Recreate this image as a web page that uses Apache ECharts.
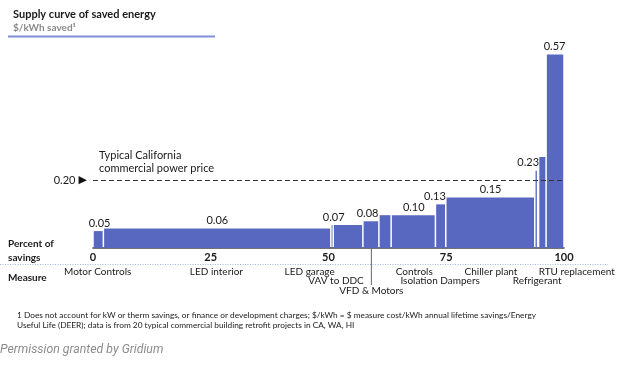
<!DOCTYPE html>
<html><head><meta charset="utf-8">
<script src="https://cdn.jsdelivr.net/npm/echarts@6/dist/echarts.min.js"></script>
<style>html,body{margin:0;padding:0;background:#fff}#c{width:622px;height:366px}</style>
</head><body><div id="c"></div>
<script>
// Supply curve segments: cumulative percent of savings (start/end) and $/kWh
const barStart = [0, 2.2, 50.5, 51.0, 57.3, 60.7, 63.3, 72.7, 74.9, 93.8, 94.6, 96.2];
const barEnd   = [2.2, 50.5, 51.0, 57.3, 60.7, 63.3, 72.7, 74.9, 93.8, 94.4, 96.2, 100];
const barValue = [0.05, 0.058, 0.068, 0.068, 0.079, 0.097, 0.097, 0.129, 0.149, 0.228, 0.269, 0.572];

// Value annotations
const labelX    = [1.4, 26.4, 51.1, 58.3, 68.1, 72.6, 84.4, 92.4, 98.0];
const labelY    = [0.05, 0.058, 0.068, 0.079, 0.097, 0.129, 0.149, 0.228, 0.572];
const labelText = ['0.05', '0.06', '0.07', '0.08', '0.10', '0.13', '0.15', '0.23', '0.57'];

// Measures (names, x position in percent, row)
const measureNames = ['Motor Controls', 'LED interior', 'LED garage', 'VAV to DDC', 'VFD & Motors',
  'Controls', 'Isolation Dampers', 'Chiller plant', 'Refrigerant', 'RTU replacement'];
const measureX   = [1.0, 26.2, 46.0, 51.6, 59.1, 68.2, 73.7, 84.5, 94.3, 102.7];
const measureRow = [0, 0, 0, 1, 2, 0, 1, 0, 1, 0];

const xTicks = [0, 25, 50, 75, 100];
const powerPrice = 0.20;
const markerX = 59.1;

const FONT = 'Lato, "Open Sans", sans-serif';
const BAR = '#5868C0';

const chart = echarts.init(document.getElementById('c'), null, {renderer: 'canvas'});

chart.setOption({
  animation: false,
  backgroundColor: '#fff',
  textStyle: {fontFamily: FONT},
  title: {
    text: 'Supply curve of saved energy',
    subtext: '$/kWh saved\u00B9',
    left: 8, top: 4, itemGap: 3,
    textStyle: {fontFamily: FONT, fontSize: 11, fontWeight: 'bold', color: '#1a1a1a'},
    subtextStyle: {fontFamily: FONT, fontSize: 10, fontWeight: 'bold', color: '#8a8a8a'}
  },
  grid: {left: 93, right: 58, top: 45, bottom: 118, containLabel: false},
  xAxis: {
    type: 'value', min: xTicks[0], max: xTicks[xTicks.length - 1], interval: 25,
    axisLine: {show: true, lineStyle: {color: '#444', width: 1.5}},
    axisTick: {show: false}, splitLine: {show: false},
    axisLabel: {margin: 4, fontFamily: FONT, fontSize: 11, fontWeight: 'bold', color: '#1a1a1a'}
  },
  yAxis: {
    type: 'value', min: 0, max: 0.6, interval: 0.2,
    axisLine: {show: false}, axisTick: {show: false}, splitLine: {show: false},
    axisLabel: {
      margin: 6,
      formatter: v => Math.abs(v - powerPrice) < 1e-9 ? '{v|0.20} {a|\u25B6}' : '',
      rich: {
        v: {fontFamily: FONT, fontSize: 11, color: '#1a1a1a'},
        a: {fontFamily: 'DejaVu Sans', fontSize: 11, color: '#111'}
      }
    }
  },
  graphic: [
    {type: 'line', shape: {x1: 8, y1: 36.5, x2: 215, y2: 36.5}, style: {stroke: '#7F8FD8', lineWidth: 2}},
    {type: 'text', left: 8, top: 237, style: {text: 'Percent of\nsavings', font: 'bold 10px ' + FONT, fill: '#1a1a1a', lineHeight: 14}},
    {type: 'text', left: 8, top: 273, style: {text: 'Measure', font: 'bold 10px ' + FONT, fill: '#1a1a1a'}},
    {type: 'line', shape: {x1: 0, y1: 264.5, x2: 608, y2: 264.5}, style: {stroke: '#A9B5DA', lineWidth: 1, lineDash: [1, 1.5]}},
    {type: 'text', left: 17, top: 310, style: {
      text: '1 Does not account for kW or therm savings, or finance or development charges; $/kWh = $ measure cost/kWh annual lifetime savings/Energy\nUseful Life (DEER); data is from 20 typical commercial building retrofit projects in CA, WA, HI',
      font: '8.3px ' + FONT, fill: '#1a1a1a', lineHeight: 10.5}},
    {type: 'text', left: 0, top: 344, style: {text: 'Permission granted by Gridium', font: 'italic 12.3px Roboto, sans-serif', fill: '#8c8c8c'}}
  ],
  series: [
    {
      type: 'custom',
      data: barStart.map((s, i) => [s, barEnd[i], barValue[i]]),
      encode: {x: [0, 1], y: 2},
      renderItem: (params, api) => {
        const p0 = api.coord([api.value(0), 0]);
        const p1 = api.coord([api.value(1), api.value(2)]);
        return {type: 'rect', shape: {x: p0[0] + 0.75, y: p1[1], width: Math.max(p1[0] - p0[0] - 1.5, 0.8), height: p0[1] - p1[1]},
          style: {fill: BAR}};
      },
      markLine: {
        silent: true, symbol: ['none', 'none'],
        lineStyle: {type: [5, 3], color: '#333', width: 1.2},
        label: {show: true, position: 'insideStartTop', distance: [6, 5], formatter: 'Typical California\ncommercial power price',
          fontFamily: FONT, fontSize: 11, color: '#1a1a1a', lineHeight: 13, align: 'left'},
        data: [{yAxis: powerPrice}]
      }
    },
    {
      type: 'custom',
      data: labelX.map((x, i) => [x, labelY[i]]),
      renderItem: (params, api) => {
        const p = api.coord([api.value(0), api.value(1)]);
        return {type: 'text', x: p[0], y: p[1] - 8,
          style: {text: labelText[params.dataIndex], font: '11px ' + FONT, fill: '#1a1a1a', align: 'center', verticalAlign: 'middle'}};
      }
    },
    {
      type: 'custom',
      data: measureX.map((x, i) => [x, measureRow[i]]),
      renderItem: (params, api) => {
        const p = api.coord([api.value(0), 0]);
        return {type: 'text', x: p[0], y: p[1] + 23.5 + api.value(1) * 9.5,
          style: {text: measureNames[params.dataIndex], font: '10px ' + FONT, fill: '#1a1a1a', align: 'center', verticalAlign: 'middle'}};
      }
    },
    {
      type: 'custom',
      data: [[markerX, 0]],
      renderItem: (params, api) => {
        const p = api.coord([api.value(0), 0]);
        return {type: 'line', shape: {x1: p[0], y1: p[1], x2: p[0], y2: p[1] + 37}, style: {stroke: '#666', lineWidth: 1}};
      }
    }
  ]
});
</script>
</body></html>
